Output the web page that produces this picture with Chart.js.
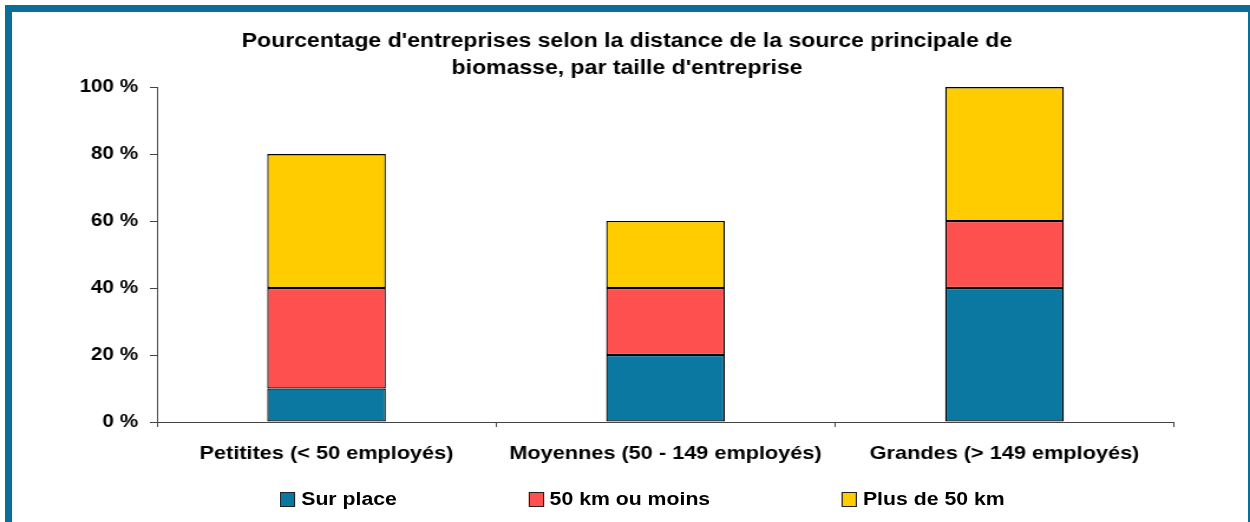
<!DOCTYPE html>
<html><head><meta charset="utf-8">
<script src="https://cdn.jsdelivr.net/npm/chart.js@4/dist/chart.umd.min.js"></script>
<style>
html,body{margin:0;padding:0;background:#fff;width:1250px;height:522px;overflow:hidden;}
#frame{position:absolute;left:5px;top:5px;width:1250px;height:600px;box-sizing:border-box;border:7px solid #0B6E99;pointer-events:none;z-index:2}
#wrap{position:absolute;left:0;top:0;width:1059px;height:522px;transform:scaleX(1.18036);transform-origin:0 0;}
#legend{position:absolute;left:237.2px;top:487px;display:flex;gap:111.4px;font:bold 18px "Liberation Sans",Arial,sans-serif;color:#000;z-index:3}
.item{display:flex;align-items:center;height:24px;white-space:nowrap}
.sw{width:11px;height:13px;border:1px solid #222;margin-right:5px}
</style></head><body>
<div id="wrap"><canvas id="c"></canvas><div id="legend"></div></div>
<div id="frame"></div>
<script>
const categories = ['Petitites (< 50 employés)', 'Moyennes (50 - 149 employés)', 'Grandes (> 149 employés)'];
const seriesNames = ['Sur place', '50 km ou moins', 'Plus de 50 km'];
const surPlace = [10, 20, 40];
const km50OuMoins = [30, 20, 20];
const plusDe50km = [40, 20, 40];
const yTicks = [0, 20, 40, 60, 80, 100];
const titleLines = ["Pourcentage d'entreprises selon la distance de la source principale de", "biomasse, par taille d'entreprise"];
const seriesColors = ['#0A78A1', '#FF5050', '#FFCC00'];

const FONT = '"Liberation Sans", Arial, sans-serif';
const seriesValues = [surPlace, km50OuMoins, plusDe50km];

const datasets = seriesNames.map((name, i) => ({
  label: name,
  data: seriesValues[i],
  backgroundColor: seriesColors[i],
  borderColor: '#000',
  borderWidth: 1.3,
  borderSkipped: false,
  barPercentage: 0.35,
  categoryPercentage: 1.0
}));

new Chart(document.getElementById('c'), {
  type: 'bar',
  data: { labels: categories, datasets },
  options: {
    responsive: true,
    maintainAspectRatio: false,
    animation: false,
    layout: { padding: { left: 67.8, right: 64.4, top: 0, bottom: 50 } },
    plugins: {
      legend: { display: false },
      tooltip: { enabled: false },
      title: {
        display: true,
        text: titleLines,
        color: '#000',
        font: { family: FONT, size: 19.5, weight: 'bold', lineHeight: 1.4 },
        padding: { top: 27.5, bottom: 5 }
      }
    },
    scales: {
      x: {
        stacked: true,
        grid: { display: true, drawOnChartArea: false, drawTicks: true, tickLength: 5, color: '#444', offset: true },
        border: { display: true, color: '#444', width: 1 },
        ticks: { color: '#000', font: { family: FONT, size: 18.4, weight: 'bold' }, padding: 16, maxRotation: 0, autoSkip: false },
        afterFit(s) { s.height = 50; }
      },
      y: {
        stacked: true,
        min: yTicks[0],
        max: yTicks[yTicks.length - 1],
        afterBuildTicks(s) { s.ticks = yTicks.map(v => ({ value: v })); },
        ticks: { color: '#000', font: { family: FONT, size: 17.5, weight: 'bold' }, padding: 10, callback: v => v + ' %' },
        grid: { drawOnChartArea: false, drawTicks: true, tickLength: 6, color: '#444' },
        border: { display: true, color: '#444', width: 1 },
        afterFit(s) { s.width = 65.2; }
      }
    }
  }
});

const legend = document.getElementById('legend');
seriesNames.forEach((name, i) => {
  const item = document.createElement('div');
  item.className = 'item';
  const sw = document.createElement('span');
  sw.className = 'sw';
  sw.style.background = seriesColors[i];
  const t = document.createElement('span');
  t.textContent = name;
  item.appendChild(sw);
  item.appendChild(t);
  legend.appendChild(item);
});
</script>
</body></html>
